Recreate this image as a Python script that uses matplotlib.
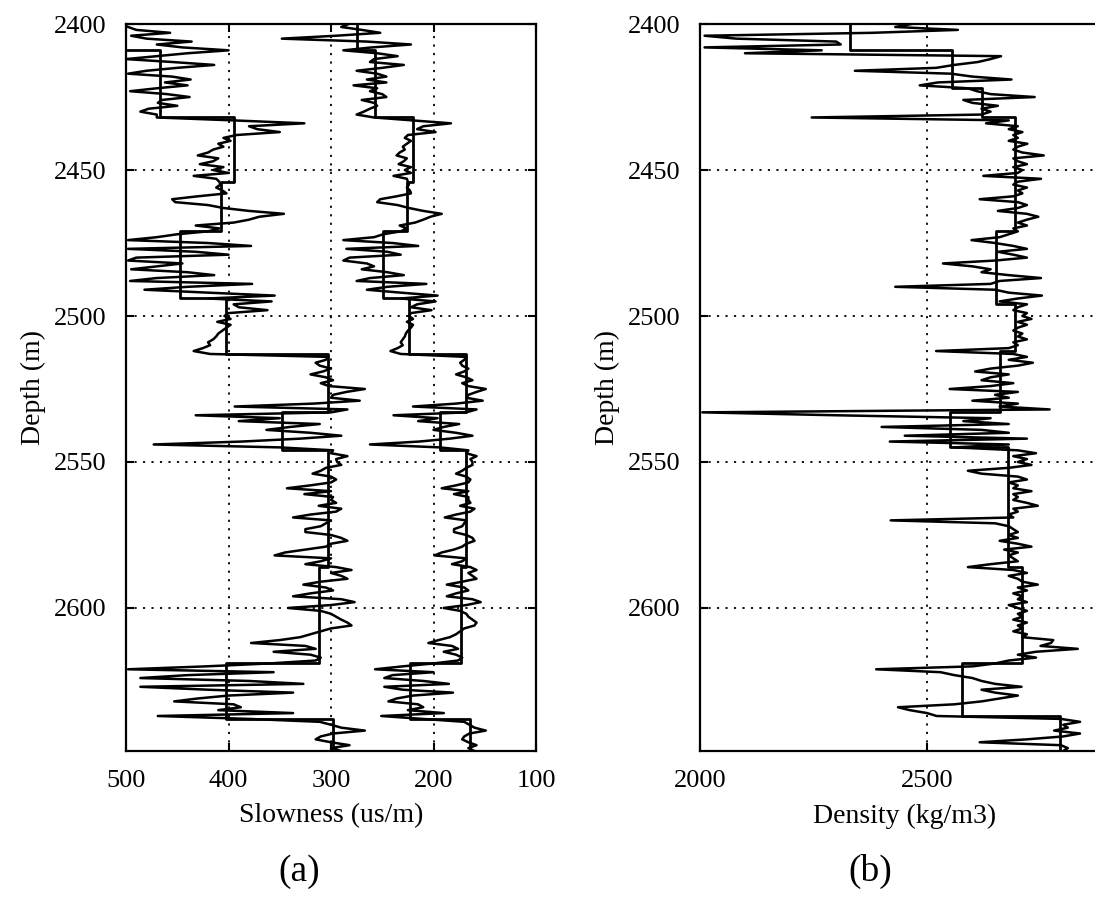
import numpy as np
import matplotlib
matplotlib.use("Agg")
import matplotlib.pyplot as plt

# well log, 1 m samples from 2400 m
depth = np.arange(2400, 2650)

# slowness log 1 (us/m)
slow_p = [
    505, 498, 490, 457, 495, 480, 436, 470, 445, 400,
    440, 470, 500, 455, 414, 450, 480, 498, 455, 437,
    462, 440, 470, 496, 460, 438, 465, 469, 450, 478,
    486, 470, 470, 395, 326, 380, 372, 350, 392, 405,
    398, 410, 405, 415, 420, 430, 410, 415, 428, 405,
    415, 400, 434, 412, 409, 408, 412, 406, 402, 430,
    455, 452, 420, 405, 380, 346, 370, 380, 395, 432,
    409, 420, 450, 470, 498, 420, 378, 498, 432, 400,
    490, 498, 445, 470, 495, 440, 414, 470, 496, 377,
    440, 482, 420, 355, 420, 358, 395, 390, 362, 400,
    404, 398, 411, 398, 402, 406, 410, 412, 415, 420,
    418, 425, 434, 418, 303, 305, 315, 311, 300, 308,
    320, 305, 298, 310, 302, 267, 285, 298, 300, 272,
    317, 394, 284, 300, 432, 350, 390, 311, 340, 363,
    320, 290, 330, 387, 473, 350, 298, 300, 284, 295,
    294, 290, 305, 310, 318, 300, 295, 300, 320, 343,
    300, 326, 298, 300, 295, 312, 290, 295, 320, 337,
    300, 305, 310, 325, 325, 300, 290, 284, 300, 305,
    325, 345, 355, 300, 310, 325, 295, 280, 300, 290,
    284, 310, 327, 305, 298, 320, 337, 290, 277, 300,
    342, 310, 300, 295, 290, 284, 280, 300, 310, 320,
    330, 350, 378, 325, 315, 356, 320, 310, 315, 360,
    422, 498, 356, 440, 486, 380, 327, 486, 420, 337,
    400, 430, 453, 395, 388, 410, 337, 469, 380, 311,
    300, 290, 267, 298, 310, 315, 300, 282, 300, 290,
]

# slowness log 2 (us/m)
slow_s = [
    283, 290, 270, 252, 295, 348, 265, 222, 260, 288,
    255, 235, 258, 262, 229, 250, 275, 255, 246, 265,
    246, 278, 255, 262, 250, 246, 270, 258, 255, 262,
    268, 275, 258, 220, 183, 210, 216, 198, 225, 228,
    222, 226, 230, 228, 233, 236, 226, 229, 234, 222,
    228, 222, 239, 226, 225, 224, 226, 223, 222, 236,
    252, 255, 235, 224, 210, 192, 203, 210, 218, 233,
    226, 232, 249, 258, 288, 240, 215, 285, 245, 232,
    282, 288, 265, 258, 270, 245, 229, 262, 275, 207,
    245, 265, 232, 196, 232, 198, 216, 222, 202, 222,
    224, 220, 226, 220, 222, 225, 227, 228, 230, 232,
    230, 235, 242, 232, 168, 170, 174, 172, 166, 170,
    178, 168, 162, 172, 166, 149, 158, 166, 168, 152,
    178, 220, 158, 168, 239, 196, 215, 175, 190, 200,
    178, 162, 184, 214, 262, 194, 166, 168, 158, 164,
    162, 162, 168, 172, 178, 168, 164, 166, 178, 192,
    166, 180, 166, 166, 164, 174, 160, 164, 178, 189,
    168, 170, 172, 180, 180, 168, 162, 160, 168, 172,
    180, 192, 199, 168, 172, 182, 164, 158, 166, 162,
    158, 172, 187, 170, 166, 178, 187, 162, 154, 168,
    190, 174, 168, 166, 162, 158, 160, 170, 174, 178,
    184, 195, 205, 182, 176, 190, 178, 172, 176, 200,
    230, 257, 200, 240, 248, 210, 185, 248, 230, 181,
    220, 236, 244, 215, 210, 225, 190, 251, 210, 170,
    165, 160, 149, 165, 170, 172, 166, 158, 166, 160,
]

# density log (kg/m3)
dens = [
    2465, 2430, 2568, 2380, 2010, 2080, 2300, 2310, 2010, 2268,
    2099, 2663, 2640, 2612, 2560, 2520, 2341, 2553, 2600, 2686,
    2524, 2484, 2590, 2610, 2640, 2737, 2580, 2600, 2656, 2620,
    2640, 2620, 2246, 2680, 2630, 2700, 2680, 2710, 2690, 2700,
    2680, 2721, 2700, 2690, 2710, 2757, 2690, 2700, 2720, 2690,
    2710, 2700, 2624, 2751, 2700, 2690, 2720, 2700, 2710, 2690,
    2616, 2700, 2720, 2700, 2656, 2720, 2745, 2720, 2700, 2720,
    2690, 2700, 2680, 2660, 2598, 2650, 2690, 2720, 2656, 2690,
    2720, 2650, 2535, 2600, 2640, 2620, 2680, 2751, 2660, 2640,
    2430, 2650, 2680, 2753, 2700, 2660, 2720, 2700, 2690, 2720,
    2710, 2730, 2700, 2720, 2700, 2690, 2710, 2700, 2720, 2690,
    2700, 2680, 2520, 2690, 2720, 2680, 2733, 2700, 2640, 2606,
    2680, 2640, 2620, 2690, 2640, 2550, 2700, 2650, 2680, 2600,
    2700, 2660, 2770, 2005, 2300, 2640, 2580, 2680, 2400, 2620,
    2680, 2451, 2720, 2418, 2680, 2560, 2700, 2740, 2690, 2720,
    2700, 2730, 2680, 2590, 2620, 2700, 2720, 2680, 2700, 2690,
    2730, 2690, 2700, 2690, 2720, 2744, 2690, 2700, 2680, 2690,
    2420, 2650, 2680, 2690, 2700, 2680, 2700, 2660, 2700, 2730,
    2670, 2700, 2680, 2690, 2700, 2640, 2590, 2690, 2720, 2680,
    2700, 2710, 2744, 2700, 2720, 2690, 2710, 2700, 2720, 2680,
    2700, 2720, 2700, 2710, 2690, 2720, 2700, 2710, 2690, 2720,
    2710, 2778, 2773, 2750, 2832, 2740, 2700, 2740, 2680, 2650,
    2600, 2388, 2530, 2560, 2600, 2620, 2650, 2708, 2620, 2650,
    2700, 2660, 2620, 2560, 2436, 2462, 2500, 2521, 2795, 2837,
    2800, 2810, 2780, 2837, 2800, 2720, 2616, 2795, 2810, 2800,
]

# blocked (layer) models
slow_tops = [2400, 2409, 2432, 2454, 2471, 2494, 2513, 2533, 2546, 2586, 2619, 2638]
slow_p_blk = [530, 467, 395, 407, 447, 402, 303, 348, 303, 312, 402, 298]
slow_s_blk = [275, 257, 220, 226, 249, 224, 168, 194, 168, 173, 223, 164]
dens_tops = [2400, 2409, 2422, 2432, 2471, 2496, 2512, 2533, 2545, 2586, 2619, 2637]
dens_blk = [2330, 2555, 2620, 2693, 2653, 2693, 2660, 2550, 2678, 2710, 2576, 2792]
bottom = 2650

depth_ticks = [2400, 2450, 2500, 2550, 2600]
slow_ticks = [500, 400, 300, 200, 100]
dens_ticks = [2000, 2500]


def blocky(tops, vals, base):
    edges = list(tops) + [base]
    y = np.column_stack([edges[:-1], edges[1:]]).ravel()
    x = np.repeat(vals, 2)
    return x, y


plt.rcParams['font.family'] = ['Liberation Serif', 'DejaVu Serif']
plt.rcParams['font.size'] = 19

fig = plt.figure(figsize=(10.95, 9.11), dpi=100)
ax1 = fig.add_axes([0.1151, 0.1756, 0.3744, 0.798])
ax2 = fig.add_axes([0.6393, 0.1756, 0.3744, 0.798])

lw_log = 1.8
lw_blk = 2.0
ax1.plot(slow_p, depth, color='black', lw=lw_log)
ax1.plot(slow_s, depth, color='black', lw=lw_log)
x, y = blocky(slow_tops, slow_p_blk, bottom)
ax1.plot(x, y, color='black', lw=lw_blk)
x, y = blocky(slow_tops, slow_s_blk, bottom)
ax1.plot(x, y, color='black', lw=lw_blk)
ax1.set_xlim(500, 100)
ax1.set_xticks(slow_ticks)
ax1.set_xlabel('Slowness (us/m)', labelpad=8, fontsize=20)

ax2.plot(dens, depth, color='black', lw=lw_log)
x, y = blocky(dens_tops, dens_blk, bottom)
ax2.plot(x, y, color='black', lw=lw_blk)
ax2.set_xlim(2000, 2903)
ax2.set_xticks(dens_ticks)
ax2.set_xlabel('Density (kg/m3)', labelpad=8, fontsize=20)

for ax in (ax1, ax2):
    ax.set_ylim(2649, 2400)
    ax.set_yticks(depth_ticks)
    ax.set_ylabel('Depth (m)', labelpad=6, fontsize=20)
    ax.grid(True, color='black', linestyle=(0, (1.2, 3.5)), linewidth=1.3)
    ax.tick_params(direction='in', length=6, width=1.5, top=True, right=True,
                   pad=14)
    for s in ax.spines.values():
        s.set_linewidth(1.6)

fig.text(0.273, 0.043, '(a)', ha='center', va='center', fontsize=27)
fig.text(0.795, 0.043, '(b)', ha='center', va='center', fontsize=27)

fig.savefig('out.png', dpi=100)
